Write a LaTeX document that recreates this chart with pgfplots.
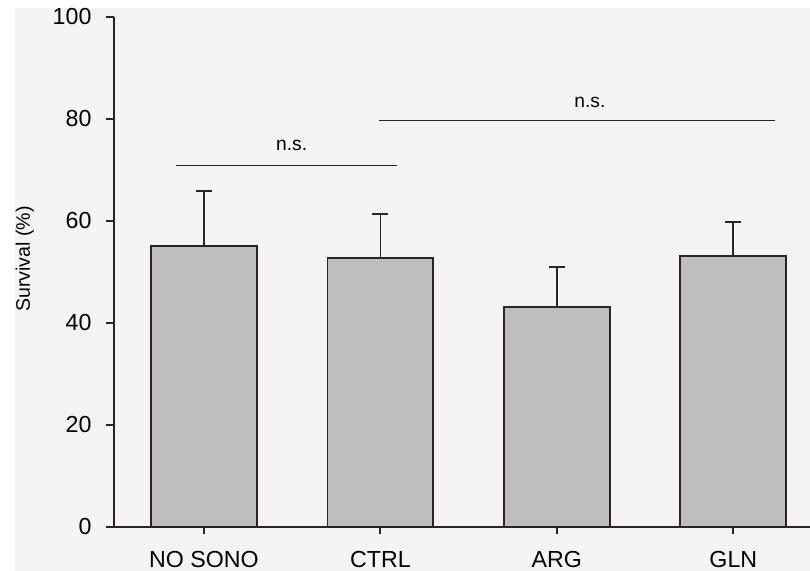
\documentclass[border=0pt]{standalone}
\usepackage{pgfplots}
\pgfplotsset{compat=1.18}
\usepackage{pgfplotstable}
\usepackage{fontspec}
\setmainfont{Liberation Sans}

\definecolor{pagebg}{HTML}{F4F4F4}
\definecolor{barfill}{HTML}{BEBEBE}
\definecolor{axiscol}{HTML}{2E2424}

\pgfplotstableread{
x  y     err
0  55.1  10.8
1  52.7  8.7
2  43.1  7.9
3  53.2  6.6
}\survival

\begin{document}
\begin{tikzpicture}
% page background
\fill[white] (-57pt,-22pt) rectangle (348pt,263.5pt);
\fill[pagebg] (-49.5pt,-22pt) rectangle (348pt,259.5pt);
\begin{axis}[
  scale only axis,
  width=348pt, height=255pt,
  xmin=-0.51, xmax=3.4346,
  ymin=0, ymax=100,
  axis lines*=left,
  axis line style={axiscol, line width=1pt},
  every tick/.style={axiscol, line width=1pt},
  tick align=outside,
  major tick length=3.75pt,
  xtick={0,1,2,3},
  xticklabels={NO SONO, CTRL, ARG, GLN},
  ytick={0,20,40,60,80,100},
  /pgf/number format/assume math mode=true,
  tick label style={font=\fontsize{11.6}{13}\selectfont, text=black},
  yticklabel style={xshift=-4pt},
  xticklabel style={yshift=-5pt},
  ylabel={Survival (\%)},
  ylabel style={font=\fontsize{9.8}{11}\selectfont, at={(axis description cs:-0.128,0.5255)}, anchor=center},
  clip=false,
]
\addplot[ybar, bar width=0.6, fill=barfill, draw=axiscol, line width=0.9pt,
  error bars/.cd, y dir=plus, y explicit,
  error bar style={axiscol, line width=0.9pt},
  error mark options={rotate=90, mark size=4pt, axiscol, line width=0.9pt}]
  table[x=x, y=y, y error=err] {\survival};
% significance brackets
\draw[axiscol, line width=0.8pt] (axis cs:-0.159,70.85) -- (axis cs:1.093,70.85);
\draw[axiscol, line width=0.8pt] (axis cs:0.99,79.7) -- (axis cs:3.235,79.7);
\node[font=\fontsize{9.6}{11}\selectfont, text=black] at (axis cs:0.497,74.8) {n.s.};
\node[font=\fontsize{9.6}{11}\selectfont, text=black] at (axis cs:2.187,83.2) {n.s.};
\end{axis}
\pgfresetboundingbox
\path[use as bounding box] (-57pt,-22pt) rectangle (348pt,263.5pt);
\end{tikzpicture}
\end{document}
